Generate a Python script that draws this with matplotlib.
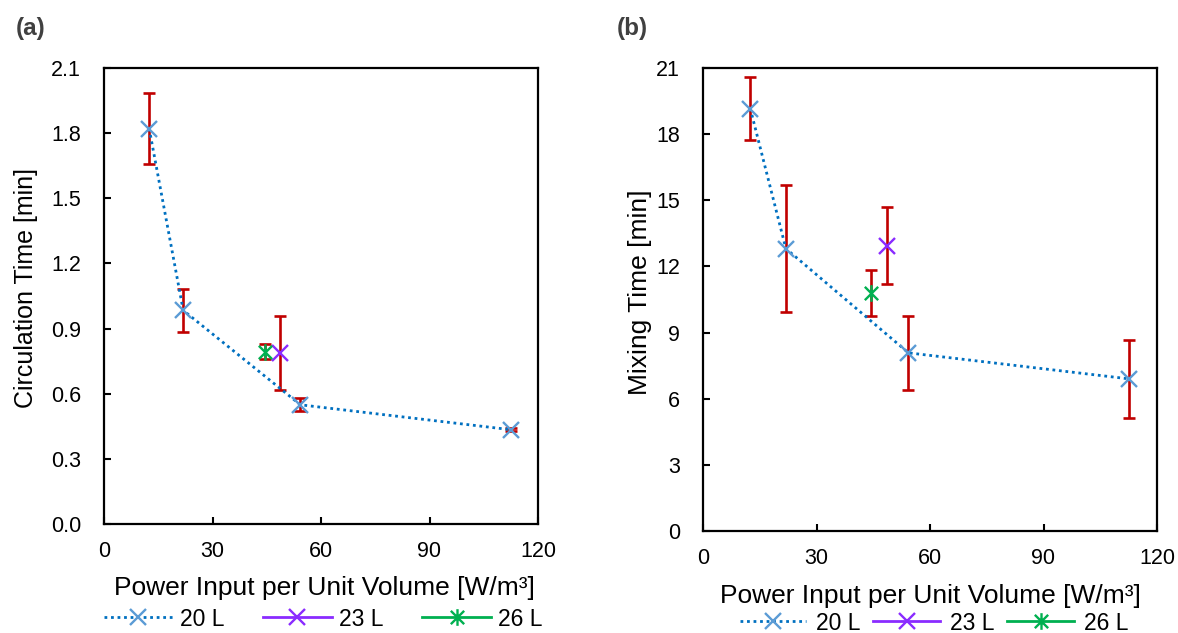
import matplotlib
matplotlib.use("Agg")
import matplotlib.pyplot as plt
from matplotlib.path import Path

plt.rcParams['font.family'] = ['Liberation Sans', 'DejaVu Sans']

# Power input per unit volume [W/m^3]
power_20L = [12.5, 21.9, 54.3, 112.6]
power_23L = [48.6]
power_26L = [44.5]

# (a) circulation time [min] with standard deviations
circ_20L = [1.821, 0.984, 0.549, 0.434]
circ_20L_err = [0.164, 0.099, 0.029, 0.008]
circ_23L = [0.786]
circ_23L_err = [0.170]
circ_26L = [0.794]
circ_26L_err = [0.035]

# (b) mixing time [min] with standard deviations
mix_20L = [19.16, 12.81, 8.08, 6.90]
mix_20L_err = [1.42, 2.87, 1.68, 1.76]
mix_23L = [12.93]
mix_23L_err = [1.745]
mix_26L = [10.80]
mix_26L_err = [1.06]

x_ticks = [0, 30, 60, 90, 120]
yticks_a = [0.0, 0.3, 0.6, 0.9, 1.2, 1.5, 1.8, 2.1]
yticks_b = [0, 3, 6, 9, 12, 15, 18, 21]
series_labels = ['20 L', '23 L', '26 L']

C_LINE20 = '#0070C0'
C_MARK20 = '#5B9BD5'
C_23 = '#8A2BFF'
C_26 = '#00B050'
C_ERR = '#C00000'

# asterisk marker: an X with a vertical stroke
star_marker = Path(
    [(-1, -1), (1, 1), (-1, 1), (1, -1), (0, -1.25), (0, 1.25)],
    [Path.MOVETO, Path.LINETO, Path.MOVETO, Path.LINETO, Path.MOVETO, Path.LINETO],
)

W, H = 1178, 633
fig = plt.figure(figsize=(W / 100, H / 100), dpi=100)


def px_axes(left, top, right, bottom):
    return fig.add_axes([left / W, (H - bottom) / H, (right - left) / W, (bottom - top) / H])


def draw_panel(ax, y20, e20, y23, e23, y26, e26, yticks, ylabel, ylab_size, ylab_coords,
               xlab_coords, leg_anchor, leg_kw):
    for xs, ys, es in [(power_20L, y20, e20), (power_23L, y23, e23), (power_26L, y26, e26)]:
        ax.errorbar(xs, ys, yerr=es, fmt='none', ecolor=C_ERR, elinewidth=1.9,
                    capsize=4.3, capthick=1.9, zorder=2)
    ax.plot(power_20L, y20, linestyle=(0, (1, 1.35)), color=C_LINE20, linewidth=2.0,
            marker='x', markersize=11, markeredgewidth=1.7, markeredgecolor=C_MARK20,
            label=series_labels[0], zorder=3)
    ax.plot(power_23L, y23, linestyle='-', color=C_23, linewidth=2.0,
            marker='x', markersize=11, markeredgewidth=1.7, markeredgecolor=C_23,
            label=series_labels[1], zorder=4)
    ax.plot(power_26L, y26, linestyle='-', color=C_26, linewidth=2.0,
            marker=star_marker, markersize=12, markeredgewidth=1.7, markeredgecolor=C_26,
            markerfacecolor='none', label=series_labels[2], zorder=4)

    ax.set_xlim(x_ticks[0], x_ticks[-1])
    ax.set_ylim(yticks[0], yticks[-1])
    ax.set_xticks(x_ticks)
    ax.set_yticks(yticks)
    if isinstance(yticks[1], float):
        ax.set_yticklabels([f'{v:.1f}' for v in yticks])
    ax.tick_params(direction='in', length=5, width=1.5, labelsize=15.5,
                   top=False, right=False, colors='black')
    ax.tick_params(axis='x', pad=12)
    ax.tick_params(axis='y', pad=16.5)
    for sp in ax.spines.values():
        sp.set_linewidth(1.6)
        sp.set_color('black')

    ax.set_xlabel('Power Input per Unit Volume [W/m³]', fontsize=19, va='center')
    ax.xaxis.set_label_coords(*xlab_coords)
    ax.set_ylabel(ylabel, fontsize=ylab_size, va='center')
    ax.yaxis.set_label_coords(*ylab_coords)

    ax.legend(loc='center', bbox_to_anchor=leg_anchor, ncol=3, frameon=False,
              fontsize=16.5, borderpad=0, borderaxespad=0, numpoints=1, **leg_kw)


ax_a = px_axes(104, 68, 538, 524)
draw_panel(ax_a, circ_20L, circ_20L_err, circ_23L, circ_23L_err, circ_26L, circ_26L_err,
           yticks_a, 'Circulation Time [min]', 18,
           ylab_coords=(-0.18, (524 - 288) / 456),
           xlab_coords=(0.509, (524 - 588) / 456),
           leg_anchor=(0.505, (524 - 619) / 456),
           leg_kw=dict(handlelength=3.0, handletextpad=0.3, columnspacing=1.7))

ax_b = px_axes(703, 68, 1157, 531)
draw_panel(ax_b, mix_20L, mix_20L_err, mix_23L, mix_23L_err, mix_26L, mix_26L_err,
           yticks_b, 'Mixing Time [min]', 19,
           ylab_coords=(-0.139, (531 - 292) / 463),
           xlab_coords=(0.502, (531 - 596) / 463),
           leg_anchor=(0.509, (531 - 623) / 463),
           leg_kw=dict(handlelength=2.9, handletextpad=0.45, columnspacing=0.55))

fig.text(31 / W, 1 - 29 / H, '(a)', fontsize=17.5, fontweight='bold', color='#404040',
         ha='center', va='center')
fig.text(632 / W, 1 - 29 / H, '(b)', fontsize=17.5, fontweight='bold', color='#404040',
         ha='center', va='center')

fig.savefig('out.png', dpi=100, facecolor='white')
